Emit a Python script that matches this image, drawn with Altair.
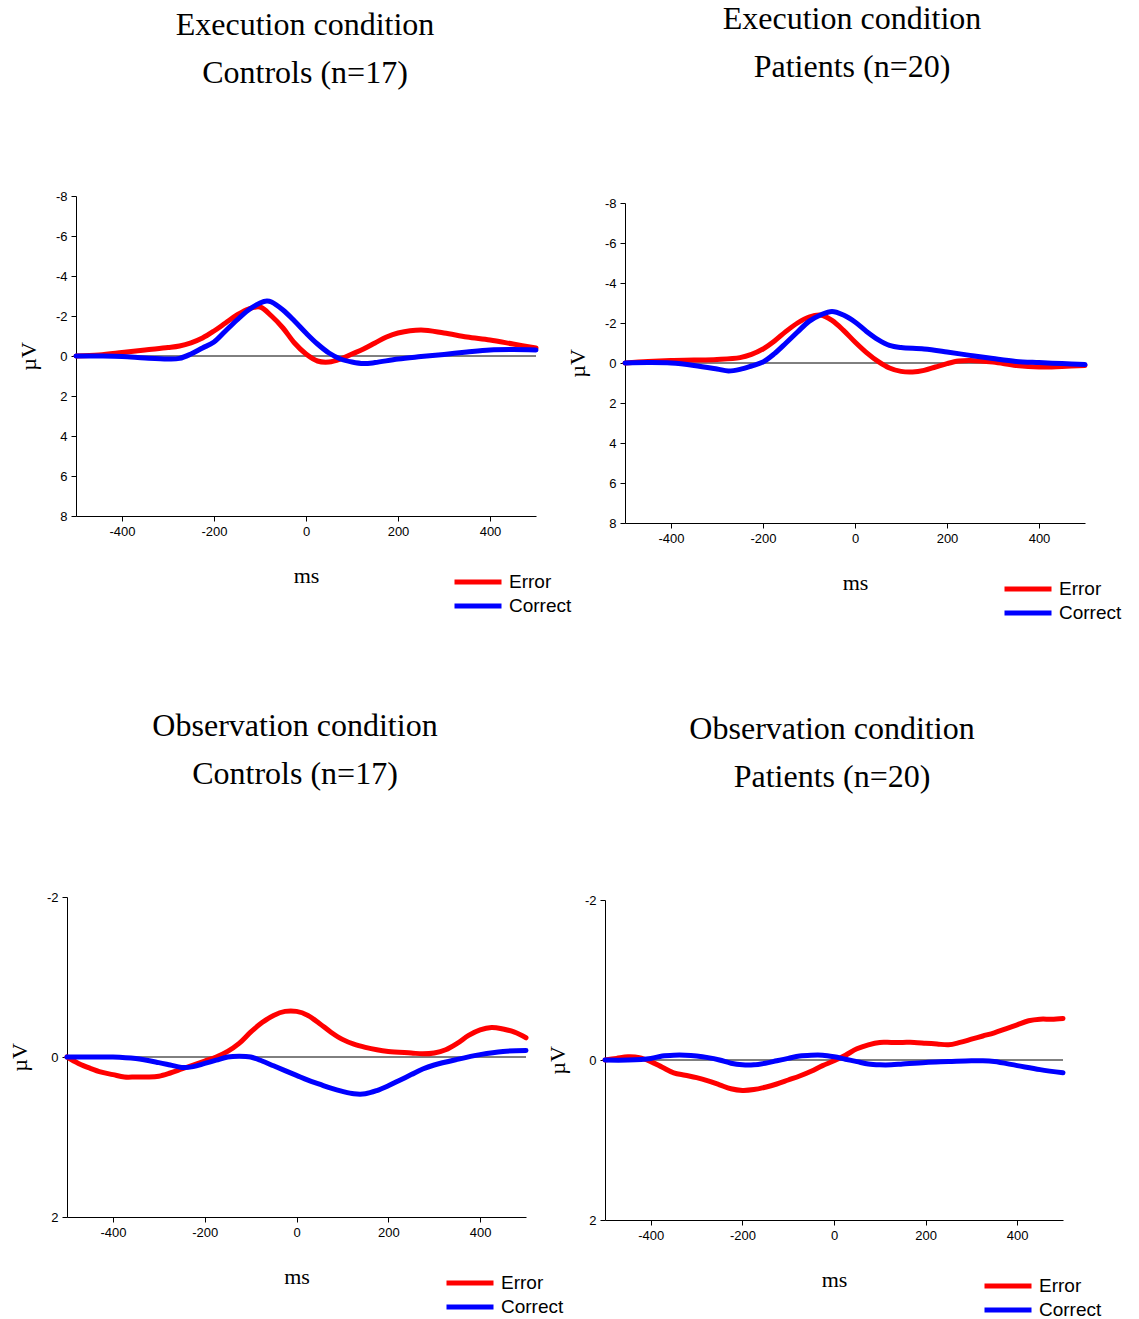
import altair as alt
import pandas as pd

# ---------------- data ----------------
series_names = ["Error", "Correct"]
series_colors = ["#ff0000", "#0000ff"]

p1_err_t = [-500, -450, -400, -350, -300, -275, -250, -225, -200, -175, -150, -125, -100, -75, -50, -25, 0, 25, 50, 75, 100, 125, 150, 175, 200, 250, 300, 350, 400, 450, 500]
p1_err_v = [0, -0.05, -0.17, -0.3, -0.42, -0.5, -0.66, -0.9, -1.25, -1.65, -2.05, -2.35, -2.45, -2.0, -1.4, -0.65, -0.1, 0.25, 0.3, 0.15, -0.1, -0.35, -0.65, -0.95, -1.15, -1.3, -1.15, -0.95, -0.8, -0.6, -0.4]
p1_cor_t = [-500, -450, -400, -350, -300, -275, -250, -225, -200, -175, -150, -125, -100, -85, -75, -50, -25, 0, 25, 50, 75, 100, 125, 150, 200, 250, 300, 350, 400, 450, 500]
p1_cor_v = [0, 0, 0.02, 0.1, 0.15, 0.12, -0.1, -0.4, -0.7, -1.25, -1.8, -2.3, -2.65, -2.75, -2.7, -2.3, -1.75, -1.15, -0.6, -0.15, 0.15, 0.3, 0.38, 0.33, 0.15, 0.03, -0.08, -0.2, -0.3, -0.32, -0.3]

p2_err_t = [-500, -450, -400, -350, -300, -250, -225, -200, -175, -150, -125, -100, -75, -50, -25, 0, 25, 50, 75, 100, 125, 150, 175, 200, 225, 250, 300, 350, 400, 450, 500]
p2_err_v = [0, -0.08, -0.13, -0.15, -0.18, -0.27, -0.43, -0.7, -1.1, -1.58, -2.0, -2.3, -2.4, -2.13, -1.63, -1.05, -0.52, -0.08, 0.25, 0.42, 0.45, 0.37, 0.2, 0.03, -0.1, -0.13, -0.05, 0.12, 0.2, 0.17, 0.12]
p2_cor_t = [-500, -450, -400, -350, -300, -275, -250, -225, -200, -175, -150, -125, -100, -75, -50, -25, 0, 25, 50, 75, 100, 150, 200, 250, 300, 350, 400, 450, 500]
p2_cor_v = [0, -0.02, 0, 0.12, 0.3, 0.4, 0.32, 0.15, -0.05, -0.47, -1.0, -1.55, -2.08, -2.4, -2.58, -2.4, -2.05, -1.58, -1.17, -0.88, -0.77, -0.7, -0.55, -0.38, -0.22, -0.08, -0.02, 0.03, 0.08]

p3_err_t = [-500, -475, -450, -425, -400, -375, -350, -325, -300, -275, -250, -225, -200, -175, -150, -125, -100, -75, -50, -25, 0, 25, 50, 75, 100, 125, 150, 175, 200, 250, 275, 300, 325, 350, 375, 400, 425, 450, 475, 500]
p3_err_v = [0.0, 0.08, 0.14, 0.19, 0.22, 0.25, 0.25, 0.25, 0.24, 0.2, 0.15, 0.1, 0.05, 0.0, -0.07, -0.17, -0.31, -0.43, -0.52, -0.57, -0.57, -0.52, -0.42, -0.31, -0.22, -0.16, -0.12, -0.09, -0.07, -0.05, -0.04, -0.05, -0.09, -0.17, -0.27, -0.34, -0.37, -0.35, -0.31, -0.24]
p3_cor_t = [-500, -450, -400, -350, -300, -275, -250, -225, -200, -175, -150, -125, -100, -75, -50, -25, 0, 25, 50, 75, 100, 125, 150, 175, 200, 225, 250, 275, 300, 350, 400, 450, 500]
p3_cor_v = [0, 0, 0, 0.02, 0.07, 0.1, 0.13, 0.12, 0.08, 0.04, 0, -0.01, 0, 0.05, 0.11, 0.17, 0.23, 0.29, 0.34, 0.39, 0.43, 0.46, 0.46, 0.42, 0.36, 0.29, 0.22, 0.15, 0.1, 0.03, -0.03, -0.07, -0.08]

p4_err_t = [-500, -475, -450, -425, -400, -375, -350, -325, -300, -275, -250, -225, -200, -175, -150, -125, -100, -75, -50, -25, 0, 25, 50, 75, 100, 125, 150, 175, 200, 225, 250, 275, 300, 325, 350, 375, 400, 425, 450, 475, 500]
p4_err_v = [0, -0.02, -0.04, -0.03, 0.02, 0.09, 0.16, 0.19, 0.22, 0.26, 0.31, 0.36, 0.38, 0.37, 0.34, 0.3, 0.25, 0.2, 0.14, 0.07, 0.01, -0.06, -0.14, -0.19, -0.22, -0.22, -0.22, -0.22, -0.21, -0.2, -0.19, -0.22, -0.26, -0.3, -0.34, -0.39, -0.44, -0.49, -0.51, -0.51, -0.52]
p4_cor_t = [-500, -450, -400, -375, -350, -325, -300, -275, -250, -225, -200, -175, -150, -125, -100, -75, -50, -25, 0, 25, 50, 75, 100, 125, 150, 200, 250, 300, 325, 350, 400, 450, 500]
p4_cor_v = [0, 0, -0.02, -0.05, -0.06, -0.06, -0.05, -0.03, 0, 0.04, 0.06, 0.06, 0.04, 0.01, -0.02, -0.05, -0.06, -0.06, -0.04, -0.01, 0.02, 0.05, 0.06, 0.06, 0.05, 0.03, 0.02, 0.01, 0.01, 0.02, 0.07, 0.12, 0.16]

x_ticks = [-400, -200, 0, 200, 400]
y_ticks_exec = [-8, -6, -4, -2, 0, 2, 4, 6, 8]
y_ticks_obs = [-2, 0, 2]

titles = [
    ["Execution condition", "Controls (n=17)"],
    ["Execution condition", "Patients (n=20)"],
    ["Observation condition", "Controls (n=17)"],
    ["Observation condition", "Patients (n=20)"],
]

SERIF = "Liberation Serif"
SANS = "Liberation Sans"
W, H = 460, 320
HYPHEN_LABEL = "'' + datum.value"


def frame(t, v, name):
    return pd.DataFrame({"ms": t, "uV": v, "series": name})


def panel(err_t, err_v, cor_t, cor_v, title, ydom, yticks,
          xrange, yrange, xoff, yoff, title_dx, title_off, lx, ly):
    xs = alt.Scale(domain=[-500, 500], range=xrange, nice=False, zero=False)
    ys = alt.Scale(domain=ydom, range=yrange, nice=False, zero=False)
    xaxis = alt.Axis(values=x_ticks, title="ms", titleFont=SERIF, titleFontSize=22,
                     titleFontWeight="normal", titleColor="black", titlePadding=27,
                     labelFont=SANS, labelFontSize=13, labelColor="black", labelPadding=4,
                     labelExpr=HYPHEN_LABEL,
                     tickSize=5, tickColor="black", domainColor="black", grid=False,
                     offset=xoff, labelFlush=False)
    yaxis = alt.Axis(values=yticks, title="µV", titleFont=SERIF, titleFontSize=22,
                     titleFontWeight="normal", titleColor="black", titlePadding=15,
                     labelFont=SANS, labelFontSize=13, labelColor="black", labelPadding=4,
                     labelExpr=HYPHEN_LABEL,
                     tickSize=5, tickColor="black", domainColor="black", grid=False,
                     offset=yoff, labelFlush=False)
    color = alt.Color("series:N",
                      scale=alt.Scale(domain=series_names, range=series_colors),
                      legend=alt.Legend(orient="none", legendX=lx, legendY=ly, title=None,
                                        symbolType="stroke", symbolSize=2209,
                                        symbolStrokeWidth=5, clipHeight=24, rowPadding=0,
                                        labelFont=SANS, labelFontSize=19, labelColor="black",
                                        labelOffset=5, padding=0, symbolOffset=0))
    zero = pd.DataFrame({"x0": [-500], "x1": [500], "y0": [0]})
    rule = alt.Chart(zero).mark_rule(color="black", strokeWidth=1).encode(
        x=alt.X("x0:Q", scale=xs, axis=xaxis),
        x2="x1:Q",
        y=alt.Y("y0:Q", scale=ys, axis=yaxis),
    )
    layers = [rule]
    for t, v, name in [(err_t, err_v, "Error"), (cor_t, cor_v, "Correct")]:
        layers.append(
            alt.Chart(frame(t, v, name)).mark_line(strokeWidth=5, strokeCap="round",
                                                  strokeJoin="round",
                                                  interpolate="catmull-rom").encode(
                x=alt.X("ms:Q", scale=xs, axis=xaxis),
                y=alt.Y("uV:Q", scale=ys, axis=yaxis),
                color=color,
            )
        )
    return alt.layer(*layers).properties(
        width=W, height=H,
        title=alt.Title(title, font=SERIF, fontSize=32, fontWeight="normal", color="black",
                        lineHeight=48, anchor="middle", frame="group", dx=title_dx,
                        offset=title_off),
    )


p1 = panel(p1_err_t, p1_err_v, p1_cor_t, p1_cor_v, titles[0], [-8, 8], y_ticks_exec,
           [0, 460], [0, 320], 0, 0, -1, 100, 376, 374)
p2 = panel(p2_err_t, p2_err_v, p2_cor_t, p2_cor_v, titles[1], [-8, 8], y_ticks_exec,
           [0, 460], [7, 327], 7, 0, -3, 112, 377, 381)
p3 = panel(p3_err_t, p3_err_v, p3_cor_t, p3_cor_v, titles[2], [-2, 2], y_ticks_obs,
           [-9, 450], [0, 320], 0, 9, -11, 100, 368, 374)
p4 = panel(p4_err_t, p4_err_v, p4_cor_t, p4_cor_v, titles[3], [-2, 2], y_ticks_obs,
           [-20, 438], [3, 323], 3, 20, -23, 100, 357, 377)

chart = alt.concat(p1, p2, p3, p4, columns=2, spacing={"row": 381, "column": 89},
                   bounds="flush").resolve_scale(color="independent").properties(
    padding={"left": 8, "top": 3, "right": 0, "bottom": 0}
).configure_view(stroke="transparent", strokeWidth=0)

chart.save("out.html", embed_options={"renderer": "svg", "actions": False})
